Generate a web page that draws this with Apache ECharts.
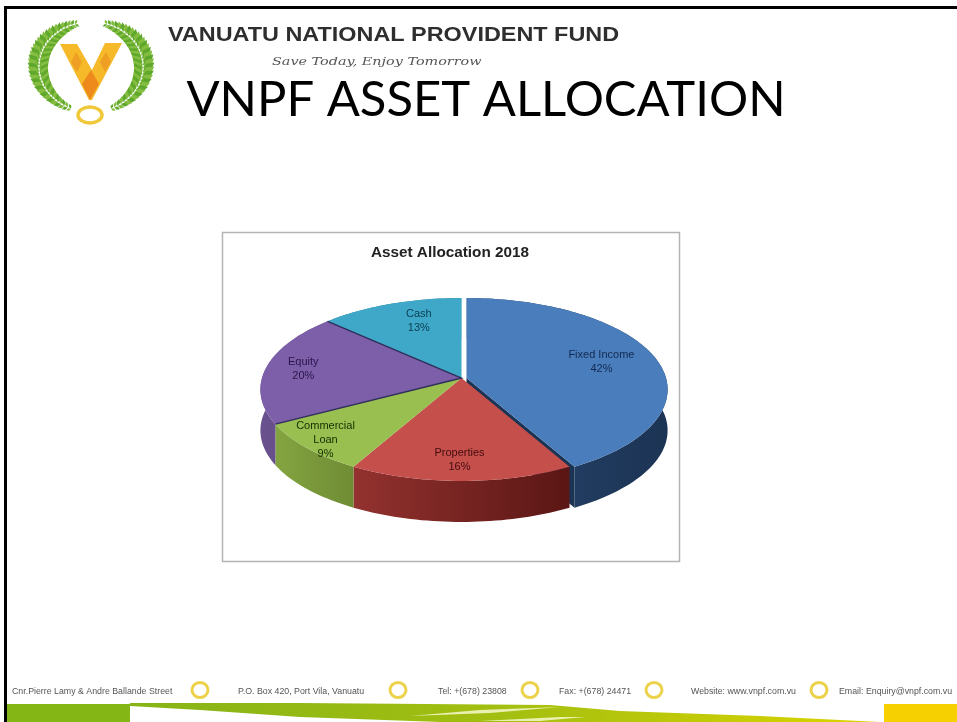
<!DOCTYPE html>
<html><head><meta charset="utf-8">
<script src="https://cdn.jsdelivr.net/npm/echarts@6/dist/echarts.min.js"></script>
<style>html,body{margin:0;padding:0;background:#fff}#c{width:957px;height:722px}</style>
</head><body><div id="c"></div>
<script>
var categories = ['Fixed Income', 'Properties', 'Commercial\nLoan', 'Equity', 'Cash'];
var shares = [42, 16, 9, 20, 13];
var topColors = ['#4a7dbb', '#c54f4b', '#98bf4f', '#7d5ea8', '#3fa8c8'];
var wallColors = [['#27466f', '#1c3454'], ['#93322f', '#5a1614'], ['#84a440', '#6f8c34'], ['#6a5290', '#584478'], ['#2b7f99', '#2b7f99']];
var labelColors = ['#122a52', '#440c0d', '#152e03', '#28164c', '#0c4054'];
var labelRadius = [0.73, 0.82, 0.9, 0.82, 0.75];
var labelDx = [-3, -2, 2, 2, 12];
var explode = [5, 0, 0, 0, 0];

var CX = 461.5, CY = 378, A = 199.5, B = 90, K = 0.1257, DEPTH = 41;
function proj(theta, r, dx) {
  var x = Math.sin(theta) * r, z = -Math.cos(theta) * r, w = 1 - K * z;
  return [CX + (dx || 0) + A * x / w, CY + B * z / w];
}
var total = shares.reduce(function (a, b) { return a + b; }, 0);
var seriesData = shares.map(function (v, i) { return { name: categories[i], value: [i, v] }; });
function range(i) {
  var s = 0;
  for (var j = 0; j < i; j++) s += shares[j];
  return [s / total * Math.PI * 2, (s + shares[i]) / total * Math.PI * 2];
}
function arc(i) {
  var t = range(i), n = Math.max(6, Math.round((t[1] - t[0]) * 40)), pts = [];
  for (var j = 0; j <= n; j++) pts.push(proj(t[0] + (t[1] - t[0]) * j / n, 1, explode[i]));
  return pts;
}
function renderWall(params, api) {
  var i = api.value(0), top = arc(i), pts = top.slice();
  for (var j = top.length - 1; j >= 0; j--) pts.push([top[j][0], top[j][1] + DEPTH]);
  var c = [{
    type: 'polygon', shape: { points: pts },
    style: { fill: { type: 'linear', x: 0, y: 0, x2: 1, y2: 0, colorStops: [{ offset: 0, color: wallColors[i][0] }, { offset: 1, color: wallColors[i][1] }] } }
  }];
  if (explode[i]) {
    var e = top[top.length - 1], ax = CX + explode[i];
    c.push({ type: 'polygon', shape: { points: [[ax, CY], e, [e[0], e[1] + DEPTH], [ax, CY + DEPTH]] }, style: { fill: wallColors[i][1] } });
  }
  return { type: 'group', children: c };
}
function renderTop(params, api) {
  var i = api.value(0), t = range(i), ap = [CX + explode[i], CY], pts = [ap].concat(arc(i));
  var c = [];
  if (explode[i]) {
    // the gap the pulled-out slice leaves open at its start edge
    c.push({ type: 'polygon', shape: { points: [[CX, CY], proj(t[0], 1), proj(t[0], 1, explode[i]), ap] }, style: { fill: '#fff' } });
  }
  c.push({ type: 'polygon', shape: { points: pts }, style: { fill: topColors[i] } });
  if (categories[i] === 'Equity') {
    c.push({ type: 'polyline', z2: 5, shape: { points: [proj(t[0], 1), ap, proj(t[1], 1)] }, style: { fill: 'none', stroke: '#2f2f5c', lineWidth: 1.4 } });
  }
  var m = (t[0] + t[1]) / 2, p = proj(m, labelRadius[i], explode[i]);
  c.push({
    type: 'text', z2: 10,
    style: { x: p[0] + labelDx[i], y: p[1], text: categories[i] + '\n' + shares[i] + '%', fill: labelColors[i], font: '11px "Liberation Sans"', align: 'center', verticalAlign: 'middle', lineHeight: 14 }
  });
  return { type: 'group', children: c };
}

var g = [];
g.push({ type: 'rect', shape: { x: 4, y: 6, width: 953, height: 3 }, style: { fill: '#000' } });
g.push({ type: 'rect', shape: { x: 4, y: 6, width: 3, height: 716 }, style: { fill: '#000' } });
g.push({ type: 'rect', z: -1, shape: { x: 222.5, y: 232.5, width: 457, height: 329 }, style: { fill: '#fff', stroke: '#b4b4b4', lineWidth: 1.5 } });

// logo: wreath, V and ring
function leaf(x, y, ang, len, col) {
  var dx = Math.cos(ang) * len, dy = Math.sin(ang) * len, nx = -dy * 0.28, ny = dx * 0.28;
  g.push({ type: 'polygon', shape: { points: [[x, y], [x + dx / 2 + nx, y + dy / 2 + ny], [x + dx, y + dy], [x + dx / 2 - nx, y + dy / 2 - ny]] }, style: { fill: col } });
}
[-1, 1].forEach(function (sd) {
  for (var a = 0; a <= 34; a++) {
    var deg = 18 + a * 4.1, th = deg * Math.PI / 180;
    var x = 91 + sd * Math.sin(th) * 52, y = 67 - Math.cos(th) * 45;
    var taper = 5 + 10 * Math.sin(a / 34 * Math.PI);
    [0.8, -0.8].forEach(function (off, n) {
      var base = Math.atan2(-Math.sin(th), -Math.cos(th)) + off;
      var vx = Math.cos(base) * sd, vy = Math.sin(base);
      leaf(x, y, Math.atan2(vy, vx), taper, (a + n) % 2 ? '#5fa82c' : '#84bd40');
    });
  }
});
g.push({ type: 'polygon', shape: { points: [[60, 44], [77, 44], [92, 70], [105, 43], [122, 43], [92, 100], [89, 100]] }, style: { fill: '#f5b92a' } });
g.push({ type: 'polygon', shape: { points: [[91, 70], [99, 84], [90, 100], [82, 84]] }, style: { fill: '#ee8a1c' } });
g.push({ type: 'polygon', shape: { points: [[76, 52], [82, 62], [77, 72], [71, 62]] }, style: { fill: '#ee9f24' } });
g.push({ type: 'polygon', shape: { points: [[106, 52], [111, 62], [105, 72], [100, 62]] }, style: { fill: '#ee9f24' } });
g.push({ type: 'ellipse', shape: { cx: 90, cy: 115, rx: 12, ry: 8 }, style: { fill: '#fff', stroke: '#f0c93a', lineWidth: 3.5 } });

// header text
g.push({ type: 'text', x: 168, y: 35, scaleX: 1.17, style: { x: 0, y: 0, text: 'VANUATU NATIONAL PROVIDENT FUND', fill: '#2e2e2e', font: 'bold 20px "Liberation Sans"', verticalAlign: 'middle' } });
g.push({ type: 'text', x: 272, y: 62, scaleX: 1.25, style: { x: 0, y: 0, text: 'Save Today, Enjoy Tomorrow', fill: '#555', font: 'italic 11.5px "DejaVu Serif"', verticalAlign: 'middle' } });

// footer
[['Cnr.Pierre Lamy & Andre Ballande Street', 12], ['P.O. Box 420, Port Vila, Vanuatu', 238], ['Tel: +(678) 23808', 438], ['Fax: +(678) 24471', 559], ['Website: www.vnpf.com.vu', 691], ['Email: Enquiry@vnpf.com.vu', 839]].forEach(function (f) {
  g.push({ type: 'text', style: { x: f[1], y: 692, text: f[0], fill: '#555', font: '8.8px "Liberation Sans"', verticalAlign: 'middle' } });
});
[200, 398, 530, 654, 819].forEach(function (x) {
  g.push({ type: 'ellipse', shape: { cx: x, cy: 690, rx: 8, ry: 7.5 }, style: { fill: '#fff', stroke: '#ecd24a', lineWidth: 3 } });
});
g.push({ type: 'rect', shape: { x: 7, y: 704, width: 123, height: 18 }, style: { fill: '#84b716' } });
g.push({ type: 'polygon', shape: { points: [[130, 703], [300, 703], [550, 705], [620, 711], [760, 716], [880, 722], [440, 722], [300, 717], [200, 710], [130, 706]] },
  style: { fill: { type: 'linear', x: 0, y: 0, x2: 1, y2: 0, colorStops: [{ offset: 0, color: '#86b417' }, { offset: 0.5, color: '#a3bf10' }, { offset: 1, color: '#dcd400' }] } } });
g.push({ type: 'polygon', shape: { points: [[410, 716], [480, 710], [560, 707], [490, 713]] }, style: { fill: '#eaf0b0' } });
g.push({ type: 'polygon', shape: { points: [[480, 721], [560, 717], [585, 717], [540, 721]] }, style: { fill: '#eaf0b0' } });
g.push({ type: 'rect', shape: { x: 884, y: 704, width: 73, height: 18 }, style: { fill: '#f6d000' } });

var chart = echarts.init(document.getElementById('c'));
chart.setOption({
  animation: false,
  backgroundColor: '#fff',
  title: [
    { text: 'VNPF ASSET ALLOCATION', left: 481, top: 95, textAlign: 'center', textVerticalAlign: 'middle', textStyle: { fontFamily: 'Lato', fontWeight: 'normal', fontSize: 49, color: '#000' } },
    { text: 'Asset Allocation 2018', left: 445, top: 248, textAlign: 'center', textVerticalAlign: 'middle', textStyle: { fontFamily: 'Liberation Sans', fontWeight: 'bold', fontSize: 15.3, color: '#222' } }
  ],
  graphic: { elements: g },
  series: [
    { type: 'custom', coordinateSystem: 'none', renderItem: renderWall, data: seriesData, z: 2, silent: true },
    { type: 'custom', coordinateSystem: 'none', renderItem: renderTop, data: seriesData, z: 3, silent: true }
  ]
});
</script></body></html>
